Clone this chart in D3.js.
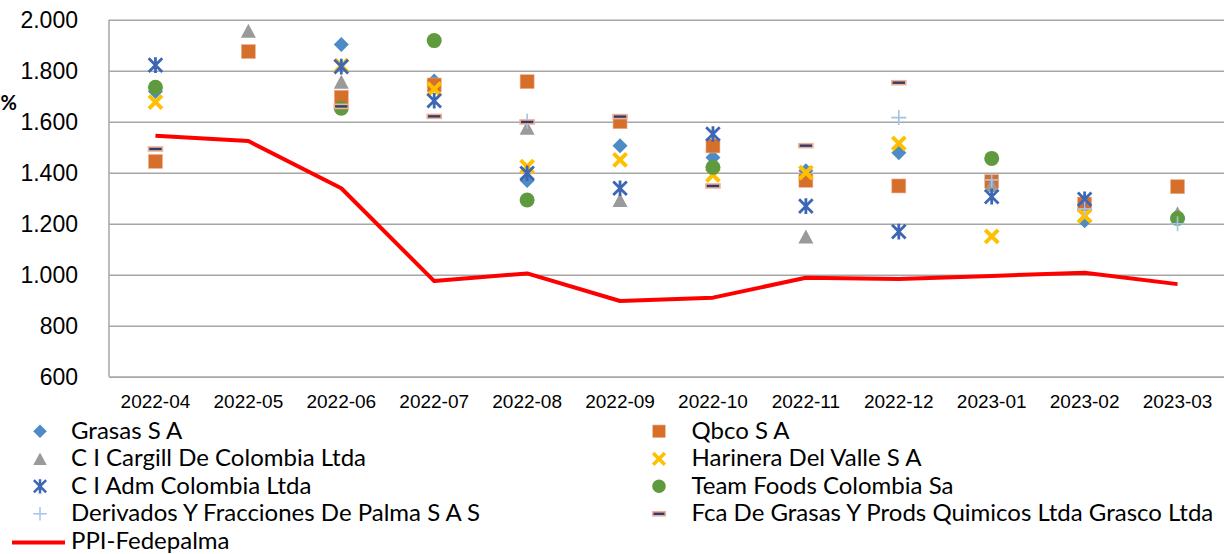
<!DOCTYPE html>
<html><head><meta charset="utf-8">
<script src="https://cdn.jsdelivr.net/npm/d3@7"></script>
<style>
html,body{margin:0;padding:0;background:#fff;}
svg{display:block;font-family:Lato, "Open Sans", sans-serif;}
</style></head>
<body><svg id="c" width="1224" height="554"></svg>
<script>
const months = ["2022-04","2022-05","2022-06","2022-07","2022-08","2022-09","2022-10","2022-11","2022-12","2023-01","2023-02","2023-03"];
const yTicks = [600,800,1000,1200,1400,1600,1800,2000];
const grasas     = [1718, null, 1903, 1760, 1369, 1506, 1460, 1408, 1478, null, 1212, 1226];
const qbco       = [1444, 1875, 1696, 1744, 1757, 1600, 1505, 1370, 1348, 1365, 1277, 1345];
const cargill    = [null, 1957, 1757, null, 1576, 1293, null, 1150, null, 1352, null, 1241];
const harinera   = [1677, null, 1820, 1728, 1424, 1450, 1391, 1400, 1515, 1150, 1231, null];
const adm        = [1822, null, 1816, 1682, 1398, 1339, 1552, 1269, 1169, 1306, 1296, null];
const teamFoods  = [1735, null, 1653, 1918, 1293, null, 1421, null, null, 1456, null, 1221];
const derivados  = [null, null, null, null, 1602, null, null, null, 1616, 1372, 1258, 1200];
const grasco     = [1493, null, 1660, 1621, 1599, 1620, 1348, 1506, 1753, null, null, null];
const ppi        = [1545, 1524, 1339, 975, 1005, 897, 910, 988, 983, 995, 1008, 963];

const seriesNames = ["Grasas S A","Qbco S A","C I Cargill De Colombia Ltda","Harinera Del Valle S A","C I Adm Colombia Ltda","Team Foods Colombia Sa","Derivados Y Fracciones De Palma S A S","Fca De Grasas Y Prods Quimicos Ltda Grasco Ltda"];
const seriesVals = [grasas,qbco,cargill,harinera,adm,teamFoods,derivados,grasco];
const lineName = "PPI-Fedepalma";

const C = {diamond:"#4E8AC6", square:"#D56F2B", tri:"#9A9A9A", xy:"#FFC000", star:"#3D66B4", circ:"#5F9B3E", plus:"#A3C2E6", dashF:"#2C3D6B", dashS:"#EFB09A", red:"#FF0000", grid:"#A6A6A6"};
const kinds = ["diamond","square","tri","xy","star","circ","plus","dash"];

const svg = d3.select("#c");
const pL = 109, pR = 1224, pT = 19.7, pB = 376.7;
const x = d3.scaleBand().domain(months).range([pL,pR]).padding(0);
const cx = m => x(m) + x.bandwidth()/2;
const y = d3.scaleLinear().domain([600,2000]).range([pB,pT]);
const loc = d3.formatLocale({decimal:",",thousands:".",grouping:[3],currency:["$",""]});
const fmt = loc.format(",.0f");

// gridlines + y labels
const ya = svg.append("g").attr("transform",`translate(${pL},0)`)
  .call(d3.axisLeft(y).tickValues(yTicks).tickSize(-(pR-pL)).tickFormat(fmt).tickPadding(31));
ya.select(".domain").remove();
ya.selectAll(".tick line").attr("stroke",C.grid).attr("stroke-width",1.5);
ya.selectAll(".tick text").attr("fill","#000").style("font-size","23px").attr("dy","0.36em");
svg.append("line").attr("x1",pL).attr("x2",pL).attr("y1",pT).attr("y2",pB).attr("stroke",C.grid).attr("stroke-width",1.5);

// x axis
const xa = svg.append("g").attr("transform",`translate(0,${pB})`)
  .call(d3.axisBottom(x).tickSize(0).tickPadding(18));
xa.select(".domain").attr("stroke",C.grid).attr("stroke-width",1.5);
xa.selectAll(".tick text").attr("fill","#000").style("font-size","19px");

svg.append("text").attr("x",0.5).attr("y",110).attr("text-anchor","start").style("font-size","20px").style("font-weight","bold").text("%");

function drawMarker(g, kind, s){
  s = s || 1;
  if(kind==="diamond"){ const r=7.5*s; g.append("path").attr("d",`M0,${-r}L${r},0L0,${r}L${-r},0Z`).attr("fill",C.diamond); }
  else if(kind==="square"){ const h=7*s; g.append("rect").attr("x",-h).attr("y",-h).attr("width",2*h).attr("height",2*h).attr("fill",C.square).attr("stroke","#F2B28E").attr("stroke-width",0.6); }
  else if(kind==="tri"){ const w=7.5*s, h=7*s; g.append("path").attr("d",`M0,${-h}L${w},${h}L${-w},${h}Z`).attr("fill",C.tri); }
  else if(kind==="circ"){ g.append("circle").attr("r",7.5*s).attr("fill",C.circ); }
  else if(kind==="xy"){ const r=6.5*s; g.append("path").attr("d",`M${-r},${-r}L${r},${r}M${-r},${r}L${r},${-r}`).attr("stroke",C.xy).attr("stroke-width",4*s).attr("fill","none"); }
  else if(kind==="star"){ const r=6.8*s; g.append("path").attr("d",`M${-r},${-r}L${r},${r}M${-r},${r}L${r},${-r}M0,${-r-1}L0,${r+1}`).attr("stroke",C.star).attr("stroke-width",2.8*s).attr("fill","none"); }
  else if(kind==="plus"){ const r=7.5*s; g.append("path").attr("d",`M${-r},0L${r},0M0,${-r}L0,${r}`).attr("stroke",C.plus).attr("stroke-width",1.6*s).attr("fill","none"); }
  else if(kind==="dash"){ g.append("rect").attr("x",-7*s).attr("y",-2).attr("width",14*s).attr("height",4).attr("fill",C.dashF).attr("stroke",C.dashS).attr("stroke-width",1.6); }
}

// scatter series
seriesVals.forEach((vals,i)=>{
  const g = svg.append("g");
  months.forEach((m,j)=>{
    if(vals[j]==null) return;
    const mg = g.append("g").attr("transform",`translate(${cx(m)},${y(vals[j])})`);
    drawMarker(mg, kinds[i]);
  });
});

// PPI line
const pts = months.map((m,j)=>[m,ppi[j]]);
svg.append("path").datum(pts)
  .attr("d", d3.line().x(d=>cx(d[0])).y(d=>y(d[1])))
  .attr("fill","none").attr("stroke",C.red).attr("stroke-width",4).attr("stroke-linejoin","round");

// legend
const legRows = [430.5,458,485.5,513,540.5];
const legFont = "24px";
seriesNames.forEach((n,i)=>{
  const col = i%2, row = Math.floor(i/2);
  const mx = col===0 ? 40 : 659, tx = col===0 ? 71 : 691.5;
  const g = svg.append("g").attr("transform",`translate(${mx},${legRows[row]+0.8})`);
  drawMarker(g, kinds[i], 0.9);
  svg.append("text").attr("x",tx).attr("y",legRows[row]).attr("dy","0.35em").style("font-size",legFont).text(n);
});
svg.append("line").attr("x1",12).attr("x2",65).attr("y1",legRows[4]+2).attr("y2",legRows[4]+2).attr("stroke",C.red).attr("stroke-width",4);
svg.append("text").attr("x",71).attr("y",legRows[4]).attr("dy","0.35em").style("font-size",legFont).text(lineName);
</script></body></html>
